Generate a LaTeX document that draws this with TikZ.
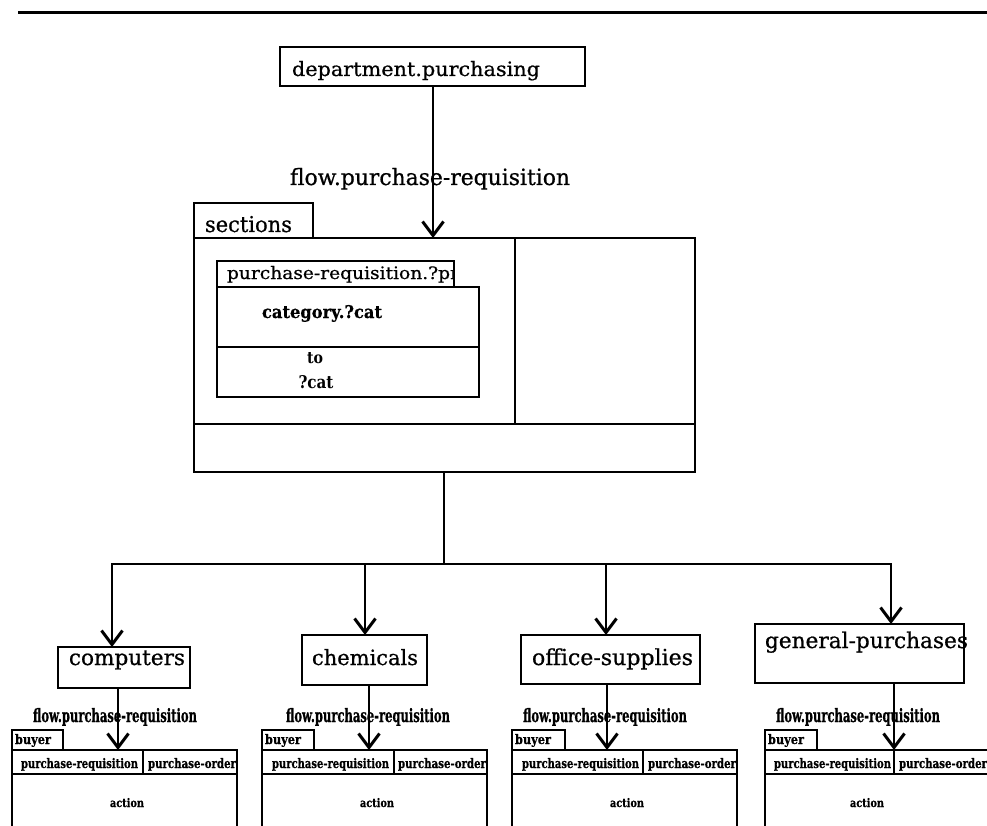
\documentclass[tikz,border=0pt]{standalone}
\usepackage{fontspec}
\setmainfont{DejaVu Serif}
\newfontfamily\labelfont[FakeBold=0.7]{DejaVu Serif}
\usepackage{graphicx}
\usetikzlibrary{arrows.meta}
% text squeezed to a given width and height
\newcommand{\fitbox}[3]{\resizebox{#1pt}{#2pt}{#3}}
\newcommand{\fitw}[2]{\resizebox{#1pt}{!}{#2}}
\begin{document}
\begin{tikzpicture}[x=1pt,y=-1pt,
  frame/.style={draw, line width=1.5pt, rectangle, inner sep=0pt, outer sep=0pt, anchor=north west},
  rule/.style={line width=1.5pt},
  txt/.style={inner sep=0pt, outer sep=0pt, anchor=base west, font=\labelfont},
  ctxt/.style={inner sep=0pt, outer sep=0pt, anchor=base},
  link/.style={line width=1.6pt},
  arr/.style={line width=1.6pt, -{Straight Barb[length=14pt,width=21pt,line width=3pt]}},
]
\useasboundingbox (0,0) rectangle (987,826);
\coordinate (pagebottom) at (0,826);

% heading rule
\coordinate (ruleL) at (18,13);
\coordinate (ruleR) at (987,13);
\draw[line width=3pt] (ruleL) -- (ruleR);

% department
\node[frame, minimum width=305pt, minimum height=39pt] (dept) at (280,47) {};
\node[txt] (deptT) at (292,76) {\fitbox{248}{15}{department.purchasing}};

% sections frame
\node[frame, minimum width=119pt, minimum height=35pt] (secTab) at (194,203) {};
\node[txt] (secT) at (205,232) {\fitbox{87}{16}{sections}};
\node[frame, minimum width=501pt, minimum height=234pt] (sec) at (194,238) {};
\coordinate (secDivL) at (194,424);
\coordinate (secDivR) at (695,424);
\coordinate (secVt) at (515,238);
\draw[rule] (secDivL) -- (secDivR);
\draw[rule] (secVt) -- (secVt |- secDivL);

% inner purchase-requisition frame
\begin{scope}
  \clip (217,261) rectangle (454,287);
  \node[txt] (prT) at (227,279) {\fitbox{232}{13}{purchase-requisition.?pr}};
\end{scope}
\node[frame, minimum width=237pt, minimum height=26pt] (prTab) at (217,261) {};
\node[frame, minimum width=262pt, minimum height=110pt] (pr) at (217,287) {};
\coordinate (prDivL) at (217,347);
\coordinate (prDivR) at (479,347);
\draw[rule] (prDivL) -- (prDivR);
\node[txt] (catT) at (262,318) {\fitbox{120}{13}{\bfseries category.?cat}};
\node[ctxt] (toT) at (315,363) {\fitbox{16}{11}{\bfseries to}};
\node[ctxt] (qcatT) at (316,388) {\fitbox{35}{13}{\bfseries ?cat}};

% incoming flow
\draw[arr] (dept.south -| 433,0) -- (433,0 |- sec.north);
\node[txt] (flowT) at (290,185) {\fitbox{280}{17}{flow.purchase-requisition}};

% section boxes
\node[frame, minimum width=132pt, minimum height=41pt] (comp) at (58,647) {};
\node[txt] (compT) at (69,665) {\fitw{116}{computers}};
\node[frame, minimum width=125pt, minimum height=50pt] (chem) at (302,635) {};
\node[txt] (chemT) at (312,665) {\fitw{106}{chemicals}};
\node[frame, minimum width=179pt, minimum height=49pt] (off) at (521,635) {};
\node[txt] (offT) at (532,665) {\fitw{161}{office-supplies}};
\node[frame, minimum width=209pt, minimum height=59pt] (gen) at (755,624) {};
\node[txt] (genT) at (765,648) {\fitw{203}{general-purchases}};

% distribution
\coordinate (hub) at (444,564);
\draw[link] (hub |- sec.south) -- (hub);
\draw[arr] (hub) -| ([xshift=-12pt]comp.north);
\draw[arr] (hub) -| ([xshift=0.5pt]chem.north);
\draw[arr] (hub) -| ([xshift=-4.5pt]off.north);
\draw[arr] (hub) -| ([xshift=31.5pt]gen.north);

% buyer tables: tab, header row, open sides
% computers
\node[frame, minimum width=51pt, minimum height=20pt] (cBuy) at (12,730) {};
\node[txt] (cBuyT) at (15,744) {\fitbox{36}{10}{\bfseries buyer}};
\node[frame, minimum width=225pt, minimum height=24pt] (cRow) at (12,750) {};
\draw[rule] (cRow.south west) -- (cRow.south west |- pagebottom);
\draw[rule] (cRow.south east) -- (cRow.south east |- pagebottom);
\coordinate (cDiv) at (143,750);
\draw[rule] (cDiv) -- (cDiv |- cRow.south);
\node[txt] (cReqT) at (21,768) {\fitbox{117}{10}{\bfseries purchase-requisition}};
\node[txt] (cOrdT) at (148,768) {\fitbox{88}{10}{\bfseries purchase-order}};
\node[txt] (cActT) at (110,807) {\fitbox{34}{9}{\bfseries action}};
\draw[arr] ([xshift=-6pt]comp.south) -- ([xshift=-6pt]comp.south |- cRow.north);
\node[txt] (cFlowT) at (33,722) {\fitbox{164}{14}{\bfseries flow.purchase-requisition}};

% chemicals
\node[frame, minimum width=52pt, minimum height=20pt] (hBuy) at (262,730) {};
\node[txt] (hBuyT) at (265,744) {\fitbox{36}{10}{\bfseries buyer}};
\node[frame, minimum width=225pt, minimum height=24pt] (hRow) at (262,750) {};
\draw[rule] (hRow.south west) -- (hRow.south west |- pagebottom);
\draw[rule] (hRow.south east) -- (hRow.south east |- pagebottom);
\coordinate (hDiv) at (394,750);
\draw[rule] (hDiv) -- (hDiv |- hRow.south);
\node[txt] (hReqT) at (272,768) {\fitbox{117}{10}{\bfseries purchase-requisition}};
\node[txt] (hOrdT) at (398,768) {\fitbox{88}{10}{\bfseries purchase-order}};
\node[txt] (hActT) at (360,807) {\fitbox{34}{9}{\bfseries action}};
\draw[arr] ([xshift=4.5pt]chem.south) -- ([xshift=4.5pt]chem.south |- hRow.north);
\node[txt] (hFlowT) at (286,722) {\fitbox{164}{14}{\bfseries flow.purchase-requisition}};

% office-supplies
\node[frame, minimum width=53pt, minimum height=20pt] (oBuy) at (512,730) {};
\node[txt] (oBuyT) at (515,744) {\fitbox{36}{10}{\bfseries buyer}};
\node[frame, minimum width=225pt, minimum height=24pt] (oRow) at (512,750) {};
\draw[rule] (oRow.south west) -- (oRow.south west |- pagebottom);
\draw[rule] (oRow.south east) -- (oRow.south east |- pagebottom);
\coordinate (oDiv) at (643,750);
\draw[rule] (oDiv) -- (oDiv |- oRow.south);
\node[txt] (oReqT) at (522,768) {\fitbox{117}{10}{\bfseries purchase-requisition}};
\node[txt] (oOrdT) at (648,768) {\fitbox{88}{10}{\bfseries purchase-order}};
\node[txt] (oActT) at (610,807) {\fitbox{34}{9}{\bfseries action}};
\draw[arr] ([xshift=-3.5pt]off.south) -- ([xshift=-3.5pt]off.south |- oRow.north);
\node[txt] (oFlowT) at (523,722) {\fitbox{164}{14}{\bfseries flow.purchase-requisition}};

% general-purchases
\node[frame, minimum width=52pt, minimum height=20pt] (gBuy) at (765,730) {};
\node[txt] (gBuyT) at (768,744) {\fitbox{36}{10}{\bfseries buyer}};
\node[frame, minimum width=240pt, minimum height=24pt] (gRow) at (765,750) {};
\draw[rule] (gRow.south west) -- (gRow.south west |- pagebottom);
\coordinate (gDiv) at (894,750);
\draw[rule] (gDiv) -- (gDiv |- gRow.south);
\node[txt] (gReqT) at (774,768) {\fitbox{117}{10}{\bfseries purchase-requisition}};
\node[txt] (gOrdT) at (899,768) {\fitbox{88}{10}{\bfseries purchase-order}};
\node[txt] (gActT) at (850,807) {\fitbox{34}{9}{\bfseries action}};
\draw[arr] ([xshift=34.5pt]gen.south) -- ([xshift=34.5pt]gen.south |- gRow.north);
\node[txt] (gFlowT) at (776,722) {\fitbox{164}{14}{\bfseries flow.purchase-requisition}};

\end{tikzpicture}
\end{document}
